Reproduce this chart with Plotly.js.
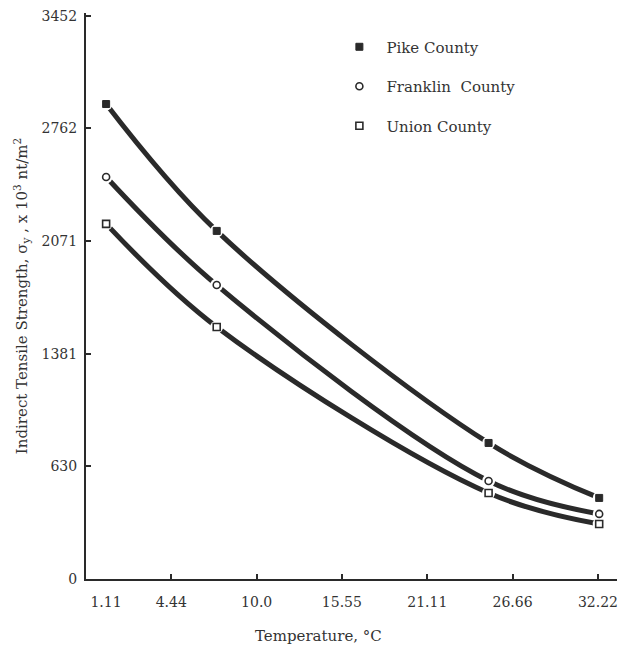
<!DOCTYPE html>
<html>
<head>
<meta charset="utf-8">
<script src="https://cdn.plot.ly/plotly-3.0.1.min.js"></script>
<style>
html,body{margin:0;padding:0;background:#fff;}
#chart{width:625px;height:650px;}
</style>
</head>
<body>
<div id="chart"></div>
<script>
// Temperature (°C) at which specimens were tested
const temps = [0.2, 7.4, 25.1, 32.3];
// Indirect tensile strength, x 10^3 nt/m^2
const pike = [2912, 2134, 834, 497];
const franklin = [2465, 1802, 601, 399];
const union = [2177, 1545, 527, 337];
const seriesNames = ["Pike County", "Franklin  County", "Union County"];

const xTickVals = [-1.11, 4.44, 10.0, 15.55, 21.11, 26.66, 32.22];
const xTickText = ["&nbsp;&nbsp;&nbsp;&nbsp;&nbsp;&nbsp;&nbsp;&nbsp;&nbsp;1.11", "4.44", "10.0", "15.55", "21.11", "26.66", "32.22"];
const yTickVals = [0, 690, 1381, 2071, 2762, 3452];
const yTickText = ["0", "630", "1381", "2071", "2762", "3452"];

const FONT = "'DejaVu Serif', 'Liberation Serif', serif";
const INK = "#2a2a2a";
const TXT = "#333333";
const series = [pike, franklin, union];

const traces = [];
// curves
series.forEach(s => {
  traces.push({x: temps, y: s, mode: "lines", type: "scatter", showlegend: false,
    hoverinfo: "skip", line: {color: INK, width: 5, shape: "spline", smoothing: 1}});
});
// white halos that break the curves around markers
series.forEach(s => {
  traces.push({x: temps, y: s, mode: "markers", type: "scatter", showlegend: false,
    hoverinfo: "skip", marker: {symbol: "circle", size: 13, color: "#ffffff", line: {width: 0}}});
});
// markers
const markerStyles = [
  {symbol: "square", size: 7, color: INK, line: {color: INK, width: 1}},
  {symbol: "circle", size: 7, color: "#ffffff", line: {color: INK, width: 1.6}},
  {symbol: "square", size: 7, color: "#ffffff", line: {color: INK, width: 1.6}}
];
series.forEach((s, i) => {
  traces.push({x: temps, y: s, mode: "markers", type: "scatter", name: seriesNames[i],
    legendgroup: "g" + i, marker: markerStyles[i]});
});

const layout = {
  width: 625, height: 650,
  margin: {l: 86, r: 8, t: 13, b: 71},
  paper_bgcolor: "#ffffff", plot_bgcolor: "#ffffff",
  font: {family: FONT, size: 13, color: TXT},
  showlegend: true,
  legend: {x: 0.464, xanchor: "left", y: 0.969, yanchor: "top",
    traceorder: "grouped", tracegroupgap: 17, itemwidth: 44,
    font: {family: FONT, size: 15, color: TXT}, bgcolor: "rgba(0,0,0,0)"},
  xaxis: {
    range: [-1.11, 33.46], showgrid: false, zeroline: false,
    showline: true, linecolor: INK, linewidth: 2,
    ticks: "inside", ticklen: 5, tickwidth: 2, tickcolor: INK,
    tickvals: xTickVals, ticktext: xTickText, ticklabelstandoff: 9,
    tickfont: {family: FONT, size: 14, color: TXT}
  },
  yaxis: {
    range: [0, 3470], showgrid: false, zeroline: false,
    showline: true, linecolor: INK, linewidth: 2,
    ticks: "inside", ticklen: 5, tickwidth: 2, tickcolor: INK,
    tickvals: yTickVals, ticktext: yTickText, ticklabelstandoff: 4,
    tickfont: {family: FONT, size: 14, color: TXT},
    title: {text: "Indirect Tensile Strength, σ<sub>y</sub> , x 10<sup>3</sup> nt/m<sup>2</sup>",
      font: {family: FONT, size: 15, color: TXT}, standoff: 10}
  },
  annotations: [{
    text: "Temperature, °C", xref: "paper", yref: "paper",
    x: 0.438, y: -0.1, xanchor: "center", yanchor: "middle", showarrow: false,
    font: {family: FONT, size: 15, color: TXT}
  }]
};

Plotly.newPlot("chart", traces, layout, {displayModeBar: false, staticPlot: true});
</script>
</body>
</html>
